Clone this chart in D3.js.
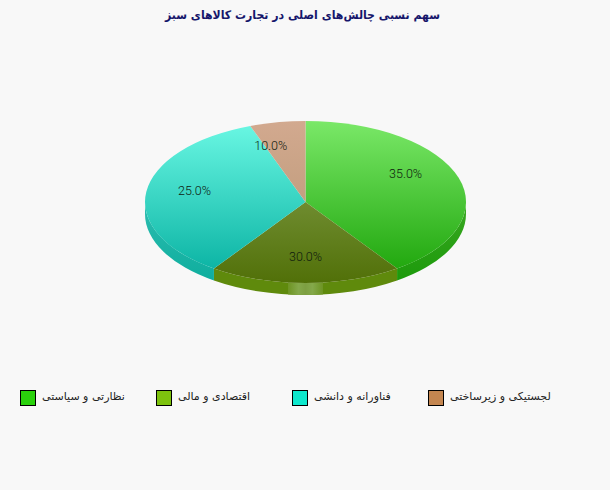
<!DOCTYPE html>
<html>
<head>
<meta charset="utf-8">
<script src="https://cdn.jsdelivr.net/npm/d3@7"></script>
<style>
  html, body { margin: 0; padding: 0; background: #f8f8f8; }
  svg { display: block; }
</style>
</head>
<body>
<div id="chart"></div>
<script>
const titleText = 'سهم نسبی چالش‌های اصلی در تجارت کالاهای سبز';
const categories = ['نظارتی و سیاستی', 'اقتصادی و مالی', 'فناورانه و دانشی', 'لجستیکی و زیرساختی'];
const shares = [35, 30, 25, 10];

const legendColors = ['#2ad20c', '#7dc20e', '#0ee8cd', '#c48650'];
const topColors = [['#7ae868', '#22a80f'], ['#6f8c30', '#517008'], ['#68f6e2', '#0db5a5'], ['#d2a98f', '#c49f80']];
const sideColors = [['#3aa822', '#1c9a0b'], ['#5f8a0c', '#5f8a0c'], ['#2cbdb0', '#0fae9e'], ['#c49f80', '#c49f80']];

const width = 610;
const height = 490;
const cx = 305.5;
const cy = 202;
const rx = 160.5;
const ry = 81;
const depth = 12;
const k = ry / rx;

const svg = d3.select('#chart').append('svg')
  .attr('width', width)
  .attr('height', height);
const defs = svg.append('defs');

// vertical gradient for a slice, runs over the bounding box of the shape
function addGradient(id, stops) {
  const grad = defs.append('linearGradient')
    .attr('id', id)
    .attr('x1', 0).attr('y1', 0).attr('x2', 0).attr('y2', 1);
  grad.append('stop').attr('offset', '0%').attr('stop-color', stops[0]);
  grad.append('stop').attr('offset', '100%').attr('stop-color', stops[1]);
}
categories.forEach((c, i) => {
  addGradient(`top-${i}`, topColors[i]);
  addGradient(`side-${i}`, sideColors[i]);
});

const shine = defs.append('linearGradient').attr('id', 'shine');
[['0%', '#6d9423'], ['30%', '#84a84a'], ['50%', '#7d9f42'], ['70%', '#84a84a'], ['100%', '#6d9423']].forEach((s) => {
  shine.append('stop').attr('offset', s[0]).attr('stop-color', s[1]);
});

const color = d3.scaleOrdinal(categories, legendColors);
const pieData = d3.pie().sort(null).value(d => d.share)(
  categories.map((name, i) => ({ name, share: shares[i] }))
);

// slices keep their true angle on screen, so turn that into the ellipse parameter
function toEllipse(a) {
  const turns = Math.round(a / Math.PI);
  const rest = a - turns * Math.PI;
  return turns * Math.PI + Math.atan2(Math.sin(rest) * k, Math.cos(rest));
}

const pieGroup = svg.append('g')
  .attr('transform', `translate(${cx},${cy}) scale(1,${k})`);

const arc = d3.arc().innerRadius(0).outerRadius(rx);

function sidePath(d) {
  const a0 = Math.max(toEllipse(d.startAngle), Math.PI / 2);
  const a1 = Math.min(toEllipse(d.endAngle), Math.PI * 1.5);
  if (a1 <= a0) return null;
  const p = d3.path();
  const off = -Math.PI / 2;
  const h = depth / k;
  p.moveTo(rx * Math.cos(a0 + off), rx * Math.sin(a0 + off));
  p.arc(0, 0, rx, a0 + off, a1 + off);
  p.lineTo(rx * Math.cos(a1 + off), rx * Math.sin(a1 + off) + h);
  p.arc(0, h, rx, a1 + off, a0 + off, true);
  p.closePath();
  return p.toString();
}

// side wall first, tops go over it
pieGroup.selectAll('.side')
  .data(pieData.filter(d => sidePath(d)))
  .enter().append('path')
    .attr('class', 'side')
    .attr('d', sidePath)
    .attr('fill', d => `url(#side-${d.index})`);

// light patch on the wall of the second slice
defs.append('clipPath').attr('id', 'wall-clip')
  .append('path').attr('d', sidePath(pieData[1]));
pieGroup.append('rect')
  .attr('clip-path', 'url(#wall-clip)')
  .attr('x', -17.5)
  .attr('y', 0)
  .attr('width', 35)
  .attr('height', (ry + depth) / k)
  .attr('fill', 'url(#shine)');

pieGroup.selectAll('.slice')
  .data(pieData)
  .enter().append('path')
    .attr('class', 'slice')
    .attr('d', d => arc({ startAngle: toEllipse(d.startAngle), endAngle: toEllipse(d.endAngle) }))
    .attr('fill', d => `url(#top-${d.index})`);

svg.selectAll('.pct')
  .data(pieData)
  .enter().append('text')
    .attr('class', 'pct')
    .attr('x', (d) => cx + 0.7 * rx * Math.sin((d.startAngle + d.endAngle) / 2))
    .attr('y', (d) => cy - 0.7 * ry * Math.cos((d.startAngle + d.endAngle) / 2) + 2)
    .attr('text-anchor', 'middle')
    .attr('font-family', 'Roboto, sans-serif')
    .attr('font-size', 12.5)
    .attr('font-weight', 300)
    .attr('fill', '#0e1a0e')
    .text(d => `${d.data.share.toFixed(1)}%`);

svg.append('text')
  .attr('x', 302.5)
  .attr('y', 19)
  .attr('text-anchor', 'middle')
  .attr('direction', 'rtl')
  .attr('font-family', '"DejaVu Sans", sans-serif')
  .attr('font-size', 12)
  .attr('font-weight', 'bold')
  .attr('textLength', 275)
  .attr('lengthAdjust', 'spacingAndGlyphs')
  .attr('fill', '#16166b')
  .text(titleText);

const legendX = d3.scalePoint().domain(categories).range([20, 428]);

const legend = svg.selectAll('.legend')
  .data(categories)
  .enter().append('g')
    .attr('class', 'legend')
    .attr('transform', d => `translate(${legendX(d)},390)`);

legend.append('rect')
  .attr('x', 0.5)
  .attr('y', 0.5)
  .attr('width', 15)
  .attr('height', 15)
  .attr('fill', d => color(d))
  .attr('stroke', '#000');

legend.append('text')
  .attr('x', 22)
  .attr('y', 10)
  .attr('text-anchor', 'end')
  .attr('direction', 'rtl')
  .attr('font-family', '"DejaVu Sans", sans-serif')
  .attr('font-size', 11)
  .attr('fill', '#222')
  .text(d => d);
</script>
</body>
</html>
